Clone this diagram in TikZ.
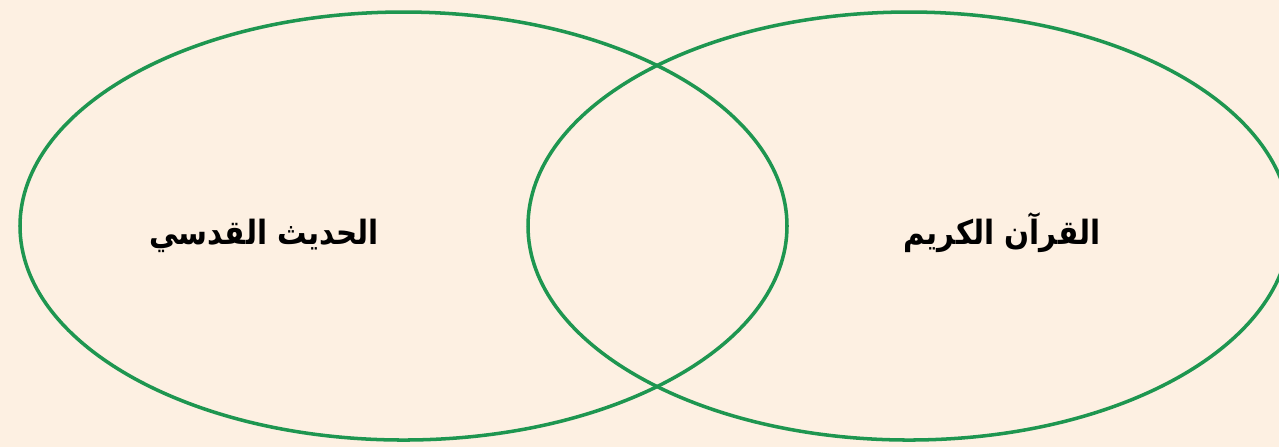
\documentclass[tikz,border=0pt]{standalone}
\usepackage{fontspec}
\TeXXeTstate=1
\newfontfamily\arabicfont[Script=Arabic]{DejaVu Sans}
\definecolor{bgcream}{RGB}{253,240,226}
\definecolor{venngreen}{RGB}{30,150,80}
\newcommand{\arlabel}[1]{\scalebox{0.88}[1]{\beginR #1\endR}}
\begin{document}
\begin{tikzpicture}[x=0.01cm,y=-0.01cm,
  setring/.style={draw=venngreen,line width=1pt},
  label/.style={font=\arabicfont\bfseries\fontsize{9.5}{11}\selectfont,text=black,inner sep=0pt,anchor=base}]
\fill[bgcream] (0,0) rectangle (1279,447);
\useasboundingbox (0,0) rectangle (1279,447);
\draw[setring] (403.5,226) ellipse [x radius=383.5, y radius=214];
\draw[setring] (909,226) ellipse [x radius=381, y radius=214];
\node[label] (hadith) at (264,244) {\arlabel{الحديث القدسي}};
\node[label] (quran) at (1002,244) {\arlabel{القرآن الكريم}};
\end{tikzpicture}
\end{document}
